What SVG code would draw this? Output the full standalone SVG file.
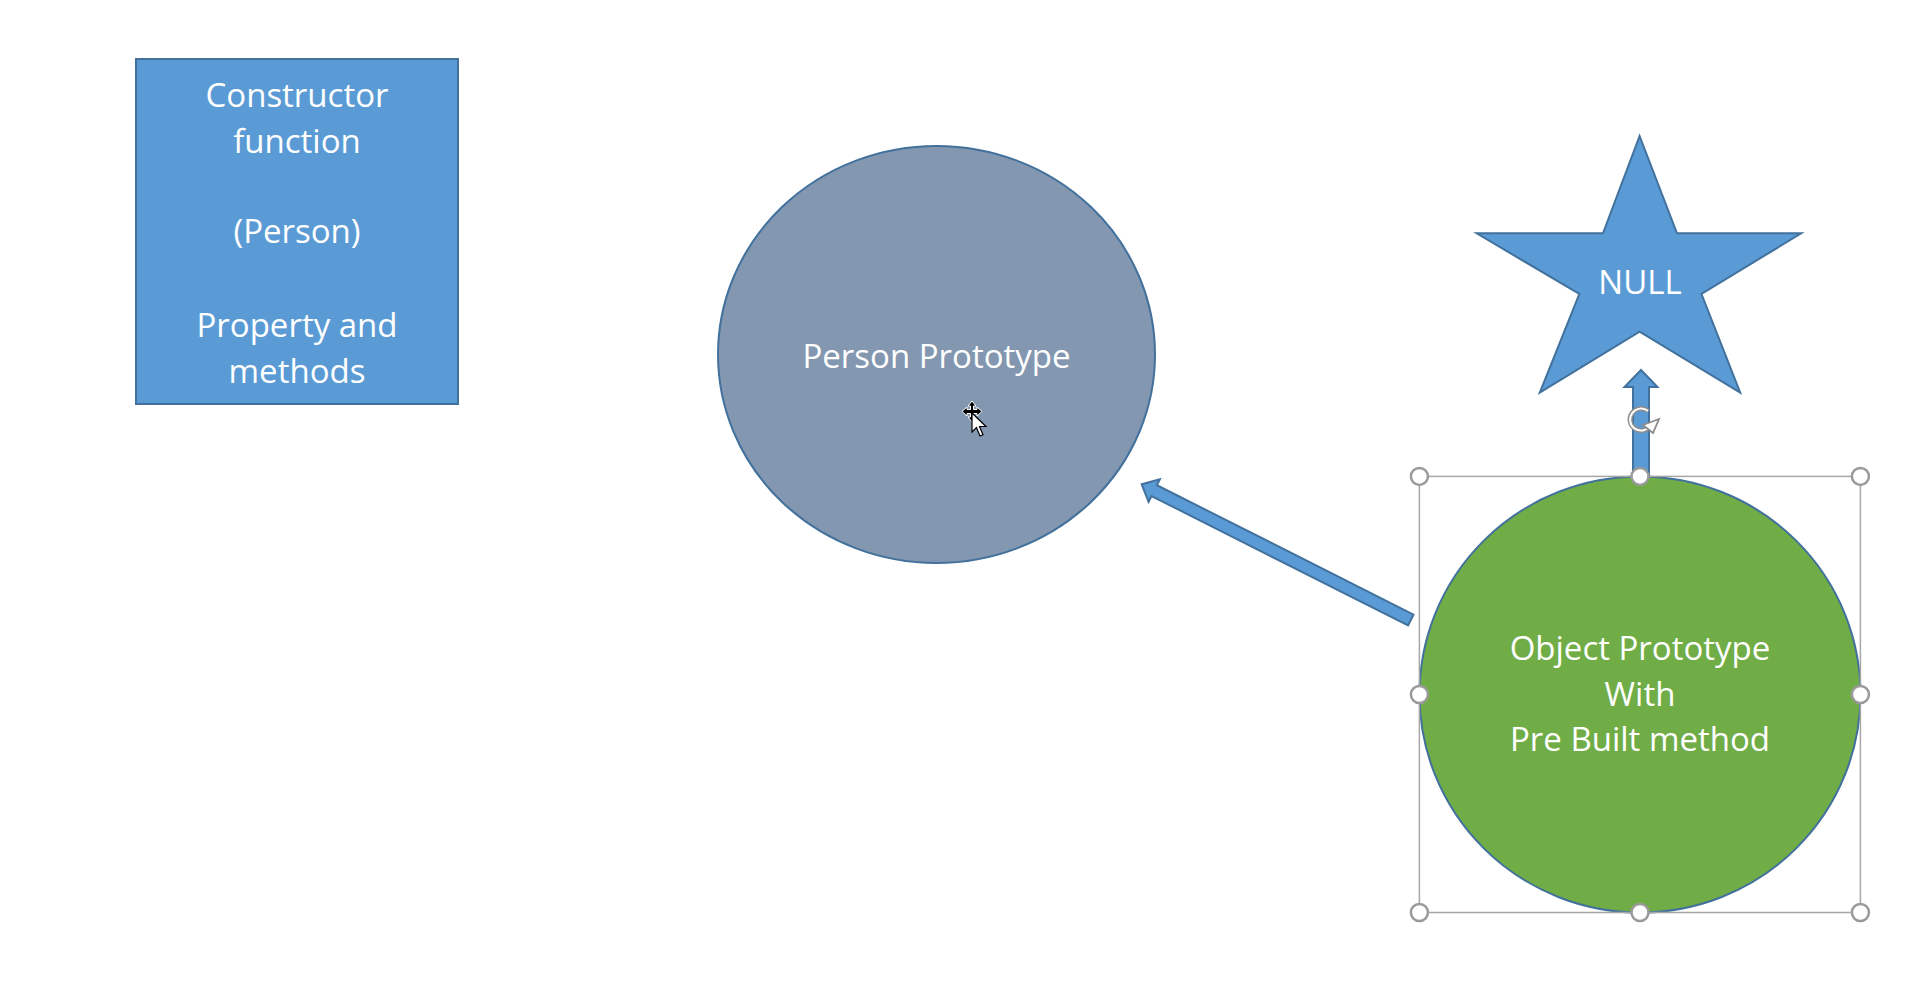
<svg xmlns="http://www.w3.org/2000/svg" width="1916" height="1000" viewBox="0 0 1916 1000">
<style>
  .lbl { font-family: "Open Sans", "Noto Sans", "Liberation Sans", sans-serif; font-size: 33px; fill: #FFFFFF; text-anchor: middle; }
  .blue { fill: #5B9BD5; stroke: #41719C; stroke-width: 2; }
  .sel { fill: none; stroke: #A6A6A6; stroke-width: 1.5; }
  .hdl { fill: #FFFFFF; stroke: #9A9A9A; stroke-width: 2.5; }
</style>
<rect x="0" y="0" width="1916" height="1000" fill="#FFFFFF"/>

<g id="constructor">
  <rect class="blue" x="136" y="59" width="322" height="345" stroke-width="2.5"/>
  <text class="lbl" x="297" y="107">Constructor</text>
  <text class="lbl" x="297" y="153">function</text>
  <text class="lbl" x="297" y="243">(Person)</text>
  <text class="lbl" x="297" y="337">Property and</text>
  <text class="lbl" x="297" y="383">methods</text>
</g>

<g id="person-prototype">
  <ellipse cx="936.5" cy="354.5" rx="218.5" ry="208.5" fill="#8497B0" stroke="#41719C" stroke-width="2"/>
  <text class="lbl" x="936.5" y="368">Person Prototype</text>
</g>

<g id="null">
  <polygon class="blue" points="1639.6,136 1677,233.3 1801.2,233.3 1701.5,294 1740.2,392.7 1639.6,331.7 1539.8,392.7 1579.3,294 1476.7,233.3 1603,233.3"/>
  <text class="lbl" x="1640" y="294">NULL</text>
</g>

<g id="object-prototype">
  <ellipse cx="1640" cy="694.5" rx="220.5" ry="218" fill="#70AD47" stroke="#41719C" stroke-width="2"/>
  <text class="lbl" x="1640" y="660">Object Prototype</text>
  <text class="lbl" x="1640" y="706">With</text>
  <text class="lbl" x="1640" y="751">Pre Built method</text>
</g>

<g id="connectors">
  <polygon class="blue" stroke-width="1.5" points="1141.7,484.3 1159.8,479.4 1156.9,485.2 1413.5,614.6 1408.1,625.4 1151.5,496 1148.6,501.8"/>
  <polygon class="blue" stroke-width="1.5" points="1641,370 1657.5,387 1649,387 1649,476 1633,476 1633,387 1624.5,387"/>
</g>

<g id="selection">
  <rect class="sel" x="1419.4" y="476.4" width="441" height="436.1"/>
  <path d="M1650 426 A11 11 0 1 1 1648 411" fill="none" stroke="#8C8C8C" stroke-width="5"/>
  <path d="M1650 426 A11 11 0 1 1 1648 411" fill="none" stroke="#FFFFFF" stroke-width="2"/>
  <polygon points="1643,425 1659,419 1653,433" fill="#FFFFFF" stroke="#8C8C8C" stroke-width="1.8"/>
  <circle class="hdl" cx="1419.4" cy="476.4" r="8.5"/>
  <circle class="hdl" cx="1640" cy="476.4" r="8.5"/>
  <circle class="hdl" cx="1860.4" cy="476.4" r="8.5"/>
  <circle class="hdl" cx="1419.4" cy="694.5" r="8.5"/>
  <circle class="hdl" cx="1860.4" cy="694.5" r="8.5"/>
  <circle class="hdl" cx="1419.4" cy="912.5" r="8.5"/>
  <circle class="hdl" cx="1640" cy="912.5" r="8.5"/>
  <circle class="hdl" cx="1860.4" cy="912.5" r="8.5"/>
</g>

<g id="cursor">
  <path d="M972 401 L976 406 L973.5 406 L973.5 409.5 L977 409.5 L977 407 L982 411.5 L977 416 L977 413.5 L973.5 413.5 L973.5 417 L976 417 L972 422 L968 417 L970.5 417 L970.5 413.5 L967 413.5 L967 416 L962 411.5 L967 407 L967 409.5 L970.5 409.5 L970.5 406 L968 406 Z" fill="#000000" stroke="#FFFFFF" stroke-width="1"/>
  <path d="M972 413 L972 432 L976.5 427.5 L980 436 L983 434.7 L979.5 426.5 L986 426.5 Z" fill="#FFFFFF" stroke="#000000" stroke-width="1.2"/>
</g>
</svg>
